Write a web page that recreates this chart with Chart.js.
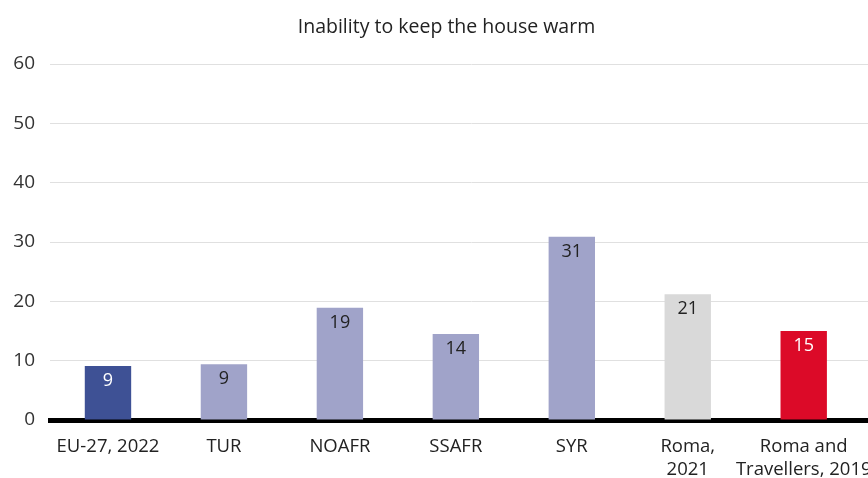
<!DOCTYPE html>
<html>
<head>
<meta charset="utf-8">
<script src="https://cdn.jsdelivr.net/npm/chart.js@4"></script>
<style>
  html, body { margin: 0; padding: 0; background: #fff; overflow: hidden; }
  #wrap { width: 868px; height: 478px; overflow: hidden; }
  #box { width: 893px; height: 478px; }
</style>
</head>
<body>
<div id="wrap"><div id="box"><canvas id="c"></canvas></div></div>
<script>
const categories = [
  'EU-27, 2022', 'TUR', 'NOAFR', 'SSAFR', 'SYR',
  ['Roma,', '2021'], ['Roma and', 'Travellers, 2019']
];
const values = [9.1, 9.4, 18.9, 14.5, 30.9, 21.2, 15.0];
const valueLabels = ['9', '9', '19', '14', '31', '21', '15'];
const barColors = ['#3e5195', '#a0a3c9', '#a0a3c9', '#a0a3c9', '#a0a3c9', '#d9d9d9', '#dc0a28'];
const labelColors = ['#ffffff', '#222222', '#222222', '#222222', '#222222', '#222222', '#ffffff'];
const yTicks = [0, 10, 20, 30, 40, 50, 60];

const FONT = '"Open Sans", sans-serif';

// writes the rounded value just under the top of each bar
const barValues = {
  id: 'barValues',
  afterDatasetsDraw(chart) {
    const ctx = chart.ctx;
    const meta = chart.getDatasetMeta(0);
    ctx.save();
    ctx.font = '18px ' + FONT;
    ctx.textAlign = 'center';
    ctx.textBaseline = 'middle';
    meta.data.forEach((bar, i) => {
      ctx.fillStyle = labelColors[i];
      ctx.fillText(valueLabels[i], bar.x, bar.y + 15);
    });
    ctx.restore();
  }
};

new Chart(document.getElementById('c'), {
  type: 'bar',
  data: {
    datasets: [{
      data: values.map((v, i) => ({ x: i, y: v })),
      backgroundColor: barColors,
      categoryPercentage: 0.8,
      barPercentage: 0.5
    }]
  },
  options: {
    responsive: true,
    maintainAspectRatio: false,
    animation: false,
    layout: { padding: 0 },
    plugins: {
      legend: { display: false },
      tooltip: { enabled: false },
      title: {
        display: true,
        text: 'Inability to keep the house warm',
        color: '#222',
        font: { family: FONT, size: 19.5, weight: 'normal' },
        padding: { top: 16, bottom: 24.6 }
      }
    },
    scales: {
      x: {
        type: 'linear',
        bounds: 'data',
        offset: false,
        min: -0.5,
        max: 6.77,
        z: 1,
        afterBuildTicks: s => { s.ticks = categories.map((_, i) => ({ value: i })); },
        afterFit: s => { s.height = 58; },
        grid: { display: false, drawTicks: false, offset: false },
        border: { display: true, color: '#000', width: 5 },
        ticks: {
          autoSkip: false,
          maxRotation: 0,
          padding: 16,
          color: '#222',
          font: { family: FONT, size: 18.5 },
          callback: v => categories[v]
        }
      },
      y: {
        min: 0,
        max: 60,
        afterBuildTicks: s => { s.ticks = yTicks.map(v => ({ value: v })); },
        afterFit: s => { s.width = 50; },
        grid: { color: '#e0e0e0', lineWidth: 1, drawTicks: false },
        border: { display: false },
        ticks: {
          padding: 15,
          color: '#333',
          font: { family: FONT, size: 19 }
        }
      }
    }
  },
  plugins: [barValues]
});
</script>
</body>
</html>
